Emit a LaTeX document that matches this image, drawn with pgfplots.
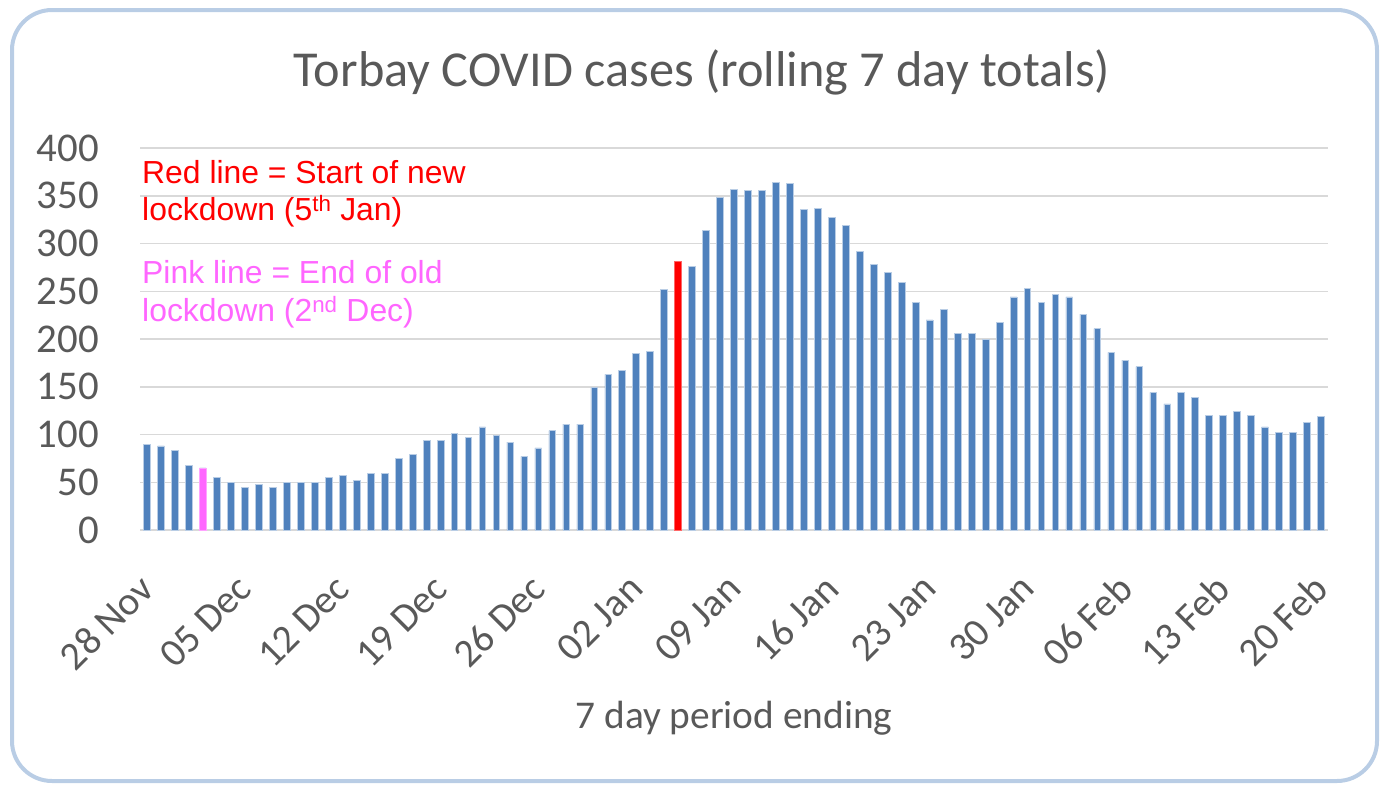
\documentclass[border=0pt]{standalone}
\usepackage{pgfplots}
\pgfplotsset{compat=1.18}
\usepackage{fontspec}
\setmainfont{Carlito}
\newfontfamily\arialf{Liberation Sans}
\definecolor{barblue}{RGB}{79,129,189}
\definecolor{baredge}{RGB}{185,205,229}
\definecolor{pinkbar}{RGB}{255,102,255}
\definecolor{txtgray}{RGB}{89,89,89}
\definecolor{gridgray}{RGB}{217,217,217}
\definecolor{framecol}{RGB}{185,205,229}
\begin{document}
\begin{tikzpicture}
\useasboundingbox (0bp,0bp) rectangle (1381bp,-785bp);
\draw[framecol, line width=4bp, rounded corners=40bp] (12bp,-10bp) rectangle (1377bp,-781bp);
\begin{axis}[
  scale only axis,
  width=1188bp, height=382bp,
  anchor=south west, at={(140bp,-530bp)},
  xmin=-0.5, xmax=84.5, ymin=0, ymax=400,
  axis line style={draw=none},
  ytick={0,50,...,400},
  xtick={0,7,...,84},
  xticklabels={28 Nov,05 Dec,12 Dec,19 Dec,26 Dec,02 Jan,09 Jan,16 Jan,23 Jan,30 Jan,06 Feb,13 Feb,20 Feb},
  major tick length=0pt,
  ymajorgrids, grid style={gridgray, line width=1.5bp},
  /pgf/number format/assume math mode=true,
  yticklabel style={font=\fontsize{41}{41}\selectfont, text=txtgray, anchor=east, inner sep=0pt, xshift=-41bp},
  xticklabel style={font=\fontsize{40}{40}\selectfont, text=txtgray, yshift=-52bp, xshift=0bp, rotate=45, anchor=east, inner sep=0pt},
  clip=false,
]
\addplot[ybar, bar shift=0pt, bar width=0.48, fill=barblue, draw=baredge, line width=0.6bp] coordinates {
(0,90)(1,88)(2,83)(3,68)(4,65)(5,55)(6,50)(7,45)(8,48)(9,45)
(10,50)(11,50)(12,50)(13,55)(14,57)(15,52)(16,59)(17,59)(18,75)(19,79)
(20,94)(21,94)(22,101)(23,97)(24,108)(25,99)(26,92)(27,77)(28,86)(29,104)
(30,111)(31,111)(32,149)(33,163)(34,167)(35,185)(36,187)(37,252)(38,281)(39,276)
(40,314)(41,348)(42,357)(43,356)(44,356)(45,364)(46,363)(47,336)(48,337)(49,327)
(50,319)(51,292)(52,278)(53,270)(54,259)(55,238)(56,220)(57,231)(58,206)(59,206)
(60,200)(61,217)(62,244)(63,253)(64,238)(65,247)(66,244)(67,226)(68,211)(69,186)
(70,178)(71,171)(72,144)(73,132)(74,144)(75,139)(76,120)(77,120)(78,124)(79,120)
(80,108)(81,102)(82,102)(83,113)(84,119)
};
\addplot[ybar, bar shift=0pt, bar width=0.48, fill=pinkbar, draw=pinkbar!60, line width=0.6bp] coordinates {(4,65)};
\addplot[ybar, bar shift=0pt, bar width=0.48, fill=red, draw=red!60, line width=0.6bp] coordinates {(38,281)};
\end{axis}
\node[text=txtgray, font=\fontsize{50.5}{50.5}\selectfont] at (702bp,-72bp) {Torbay COVID cases (rolling 7 day totals)};
\node[text=txtgray, font=\fontsize{39.5}{39.5}\selectfont] at (734bp,-718bp) {7 day period ending};
\begin{scope}[every node/.style={anchor=base west, inner sep=0pt, font=\arialf\fontsize{32}{32}\selectfont}]
\node[text=red] at (142bp,-183bp) {Red line = Start of new};
\node[text=red] at (142bp,-220bp) {lockdown (5\textsuperscript{th} Jan)};
\node[text=pinkbar] at (142bp,-283bp) {Pink line = End of old};
\node[text=pinkbar] at (142bp,-321bp) {lockdown (2\textsuperscript{nd} Dec)};
\end{scope}
\end{tikzpicture}
\end{document}
